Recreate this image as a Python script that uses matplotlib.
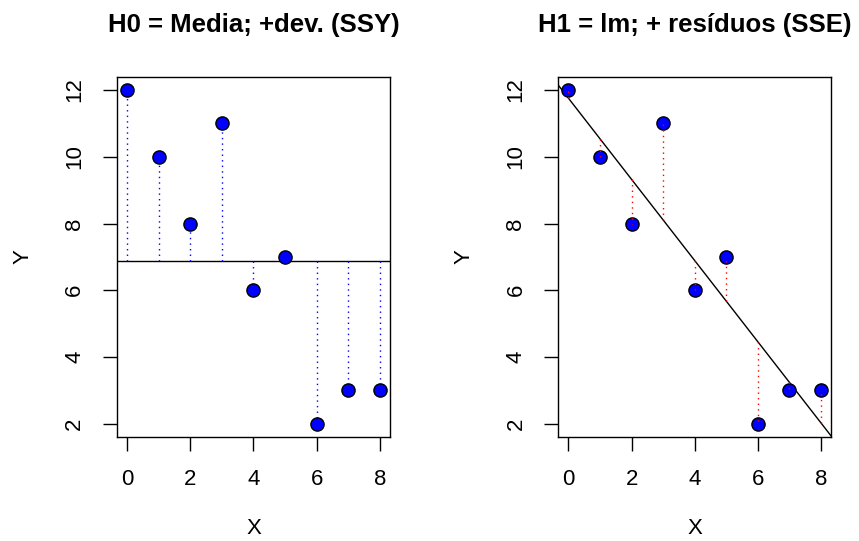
import numpy as np
import matplotlib.pyplot as plt

plt.rcParams["font.family"] = ["Liberation Sans", "DejaVu Sans"]

# data
x = [0, 1, 2, 3, 4, 5, 6, 7, 8]
y = [12, 10, 8, 11, 6, 7, 2, 3, 3]
xticks = [0, 2, 4, 6, 8]
yticks = [2, 4, 6, 8, 10, 12]
titles = ["H0 = Media; +dev. (SSY)", "H1 = lm; + resíduos (SSE)"]

xa = np.array(x, dtype=float)
ya = np.array(y, dtype=float)
ybar = ya.mean()
slope, icpt = np.polyfit(xa, ya, 1)
yhat = icpt + slope * xa


def style_axes(ax, title):
    ax.set_xlim(-0.32, 8.32)
    ax.set_ylim(1.6, 12.4)
    ax.set_xticks(xticks)
    ax.set_yticks(yticks)
    ax.set_yticklabels([str(t) for t in yticks], rotation=90, va="center")
    ax.tick_params(direction="out", length=10, width=1, labelsize=16, pad=13)
    for s in ax.spines.values():
        s.set_linewidth(1)
    ax.set_xlabel("X", fontsize=16)
    ax.set_ylabel("Y", fontsize=16)
    ax.xaxis.set_label_coords(0.5, -0.225)
    ax.yaxis.set_label_coords(-0.306, 0.5)
    ax.set_title(title, fontsize=18.5, fontweight="bold", pad=32)


fig = plt.figure(figsize=(8.59, 5.41), dpi=100)
ax1 = fig.add_axes([0.1362, 0.1922, 0.3178, 0.666])
ax2 = fig.add_axes([0.650, 0.1922, 0.3175, 0.666])

# H0: horizontal mean line + deviations
ax1.axhline(ybar, color="black", lw=1)
ax1.vlines(xa, ybar, ya, colors="blue", linestyles=(0, (1, 3)), lw=1)
ax1.plot(xa, ya, "o", ms=9.5, mfc="blue", mec="black", mew=1, zorder=3)
style_axes(ax1, titles[0])

# H1: regression line + residuals
ax2.axline((0, icpt), slope=slope, color="black", lw=1)
ax2.plot(xa, ya, "o", ms=9.5, mfc="blue", mec="black", mew=1, zorder=3)
ax2.vlines(xa, yhat, ya, colors="red", linestyles=(0, (1, 3)), lw=1, zorder=4)
style_axes(ax2, titles[1])

fig.savefig("out.png", dpi=100)
